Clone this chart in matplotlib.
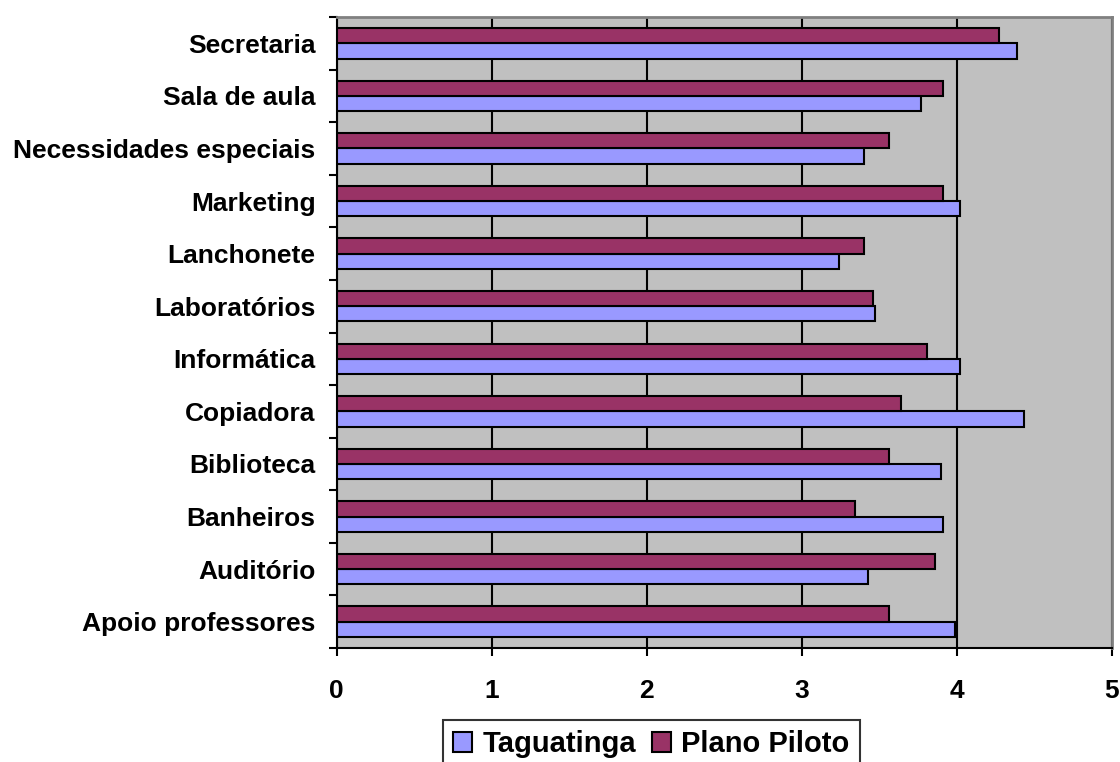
import numpy as np
import matplotlib.pyplot as plt
from matplotlib.patches import Patch

plt.rcParams['font.family'] = ['Liberation Sans', 'DejaVu Sans']

categories = ['Apoio professores', 'Auditório', 'Banheiros', 'Biblioteca', 'Copiadora',
              'Informática', 'Laboratórios', 'Lanchonete', 'Marketing',
              'Necessidades especiais', 'Sala de aula', 'Secretaria']
taguatinga = [3.99, 3.43, 3.91, 3.90, 4.43, 4.02, 3.47, 3.24, 4.02, 3.40, 3.77, 4.39]
plano_piloto = [3.56, 3.86, 3.34, 3.56, 3.64, 3.81, 3.46, 3.40, 3.91, 3.56, 3.91, 4.27]
series_names = ['Taguatinga', 'Plano Piloto']
colors = ['#9999FF', '#993366']

fig = plt.figure(figsize=(11.2, 7.62), dpi=100)
ax = fig.add_axes([336.5/1120, 1 - 648/762, (1112 - 336.5)/1120, (648 - 17)/762])
ax.set_facecolor('#C0C0C0')

y = np.arange(len(categories))
h = 0.29
ax.barh(y - h/2, taguatinga, height=h, color=colors[0], edgecolor='black', linewidth=1.5, zorder=3)
ax.barh(y + h/2, plano_piloto, height=h, color=colors[1], edgecolor='black', linewidth=1.5, zorder=3)

ax.set_xlim(0, 5)
ax.set_ylim(-0.5, len(categories) - 0.5)
ax.set_xticks(range(6))
ax.set_xticklabels([str(i) for i in range(6)], fontsize=19, fontweight='bold')
ax.tick_params(axis='x', length=6, width=1.5, pad=16)
ax.xaxis.grid(True, color='black', linewidth=1.5, zorder=1)
ax.set_axisbelow(True)

# category labels centred, ticks at the boundaries
ax.set_yticks(y)
ax.set_yticklabels(categories, fontsize=19, fontweight='bold')
ax.tick_params(axis='y', length=0, pad=15)
ax.set_yticks(np.arange(len(categories) + 1) - 0.5, minor=True)
ax.tick_params(axis='y', which='minor', length=6, width=1.5)

for side in ['left', 'bottom']:
    ax.spines[side].set_color('black')
    ax.spines[side].set_linewidth(1.5)
for side in ['top', 'right']:
    ax.spines[side].set_color('#808080')
    ax.spines[side].set_linewidth(2)

handles = [Patch(facecolor=c, edgecolor='black', linewidth=1.5) for c in colors]
leg = fig.legend(handles, series_names, loc='upper center', bbox_to_anchor=(651.5/1120, 1 - 720/762),
                 ncol=2, frameon=True, fancybox=False, edgecolor='black',
                 prop={'size': 21, 'weight': 'bold'}, handlelength=0.65, handleheight=0.65,
                 handletextpad=0.35, columnspacing=0.55, borderpad=0.35, borderaxespad=0)
leg.get_frame().set_linewidth(1.5)

fig.savefig('out.png', dpi=100)
